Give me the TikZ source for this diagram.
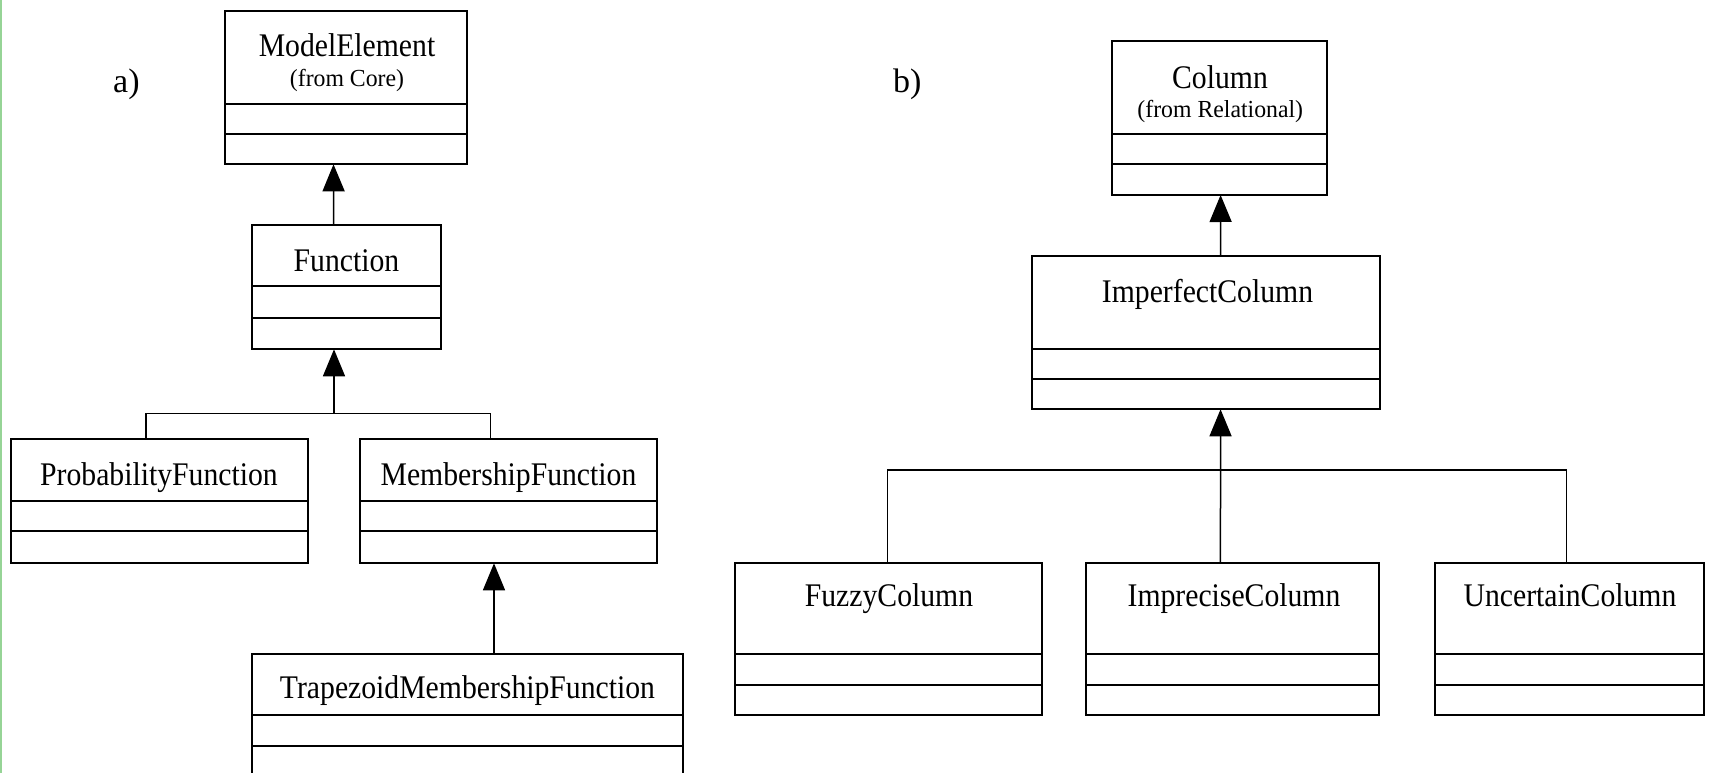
\documentclass[tikz,border=0pt]{standalone}
\usepackage{fontspec}
\setmainfont{Liberation Serif}
\newfontfamily\clsfont[FakeStretch=0.9]{Liberation Serif}
\newfontfamily\subfont[FakeStretch=0.97]{Liberation Serif}
\usetikzlibrary{arrows.meta}
\definecolor{edgegreen}{RGB}{150,212,150}
\newcommand{\umlcls}[7]{%
  \node[cls, minimum width={(#4-#2)*1pt}, minimum height={(#5-#3)*1pt}] (#1) at ({(#2+#4)/2},{(#3+#5)/2}) {};
  \draw[div] (#2,#6) -- (#4,#6);
  \draw[div] (#2,#7) -- (#4,#7);}
\begin{document}
\begin{tikzpicture}[x=1pt,y=-1pt,
  cls/.style={draw, line width=2pt, inner sep=0pt, outer sep=0pt},
  div/.style={line width=2pt},
  conn/.style={line width=1.5pt},
  inh/.style={conn, -{Triangle[width=22pt,length=27pt]}},
  clsname/.style={font=\clsfont\fontsize{33}{40}\selectfont, anchor=base, inner sep=0pt},
  subname/.style={font=\subfont\fontsize{24.5}{30}\selectfont, anchor=base, inner sep=0pt},
  tag/.style={font=\fontsize{34}{40}\selectfont, anchor=base west, inner sep=0pt}]
\useasboundingbox (0,0) rectangle (1711,773);
\fill[white] (0,0) rectangle (1711,773);
\draw[edgegreen, line width=1.5pt] (0.75,0) -- (0.75,773);

% ---------- a) ----------
\node[tag] (la) at (113,93) {a)};
\umlcls{me}{225.3}{11}{467.3}{164.3}{104.3}{134.3}
\umlcls{func}{252.3}{225.3}{440.7}{349.3}{286}{317.5}
\umlcls{prob}{10.5}{439}{307.7}{563.3}{500.7}{530.7}
\umlcls{memb}{360}{439}{657}{563.3}{500.7}{530.7}
\umlcls{trap}{252.3}{654.3}{682.7}{800}{715}{745.7}

\node[clsname] (tme) at (347,56.7) {ModelElement};
\node[subname] (tmes) at (347,86.7) {(from Core)};
\node[clsname] (tfunc) at (346.5,271) {Function};
\node[clsname] (tprob) at (159,485) {ProbabilityFunction};
\node[clsname] (tmemb) at (508.5,485) {MembershipFunction};
\node[clsname] (ttrap) at (467.5,698) {TrapezoidMembershipFunction};

\coordinate (ja) at (334,413.3);
\draw[inh] ([xshift=-12.8pt]func.north) -- ([xshift=-12.8pt]me.south);
\draw[inh] (ja) -- ([xshift=-12.5pt]func.south);
\draw[conn] ([xshift=-13pt]prob.north) |- (ja) -| ([xshift=-18pt]memb.north);
\draw[inh] ([xshift=26.5pt]trap.north) -- ([xshift=-14.5pt]memb.south);

% ---------- b) ----------
\node[tag] (lb) at (893,93) {b)};
\umlcls{col}{1112.3}{41.3}{1327.3}{195}{134.3}{164.3}
\umlcls{imp}{1032.3}{255.7}{1380.4}{409.3}{349}{379}
\umlcls{fuz}{735}{563.3}{1041.7}{715}{654.3}{685}
\umlcls{imc}{1086}{563.3}{1379.3}{715}{654.3}{685}
\umlcls{unc}{1435}{563.3}{1704.3}{714.5}{654.3}{685}

\node[clsname] (tcol) at (1220,88.3) {Column};
\node[subname] (tcols) at (1220.3,118) {(from Relational)};
\node[clsname] (timp) at (1207.5,302) {ImperfectColumn};
\node[clsname] (tfuz) at (889,606.7) {FuzzyColumn};
\node[clsname] (timc) at (1234,606.7) {ImpreciseColumn};
\node[clsname] (tunc) at (1570,606.7) {UncertainColumn};

\coordinate (jb) at (1220.5,470);
\draw[inh] ([xshift=14.3pt]imp.north) -- ([xshift=0.8pt]col.south);
\draw[inh] ([xshift=-12.2pt]imc.north) -- ([xshift=14.2pt]imp.south);
\draw[conn] ([xshift=-0.9pt]fuz.north) |- (jb) -| ([xshift=-3pt]unc.north);
\end{tikzpicture}
\end{document}
